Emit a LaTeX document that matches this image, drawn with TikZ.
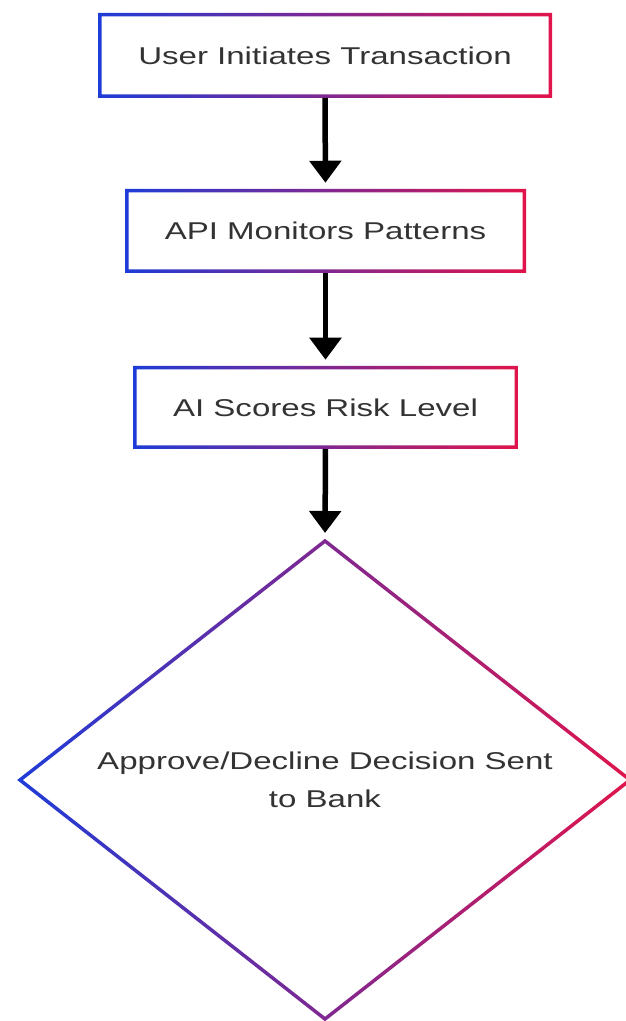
\documentclass[tikz,border=0pt]{standalone}
\usepackage{fontspec}
\newfontfamily\lab[FakeStretch=1.36]{Liberation Sans}
\usetikzlibrary{arrows.meta,calc,shapes.geometric}
\definecolor{edgeblue}{RGB}{30,60,215}
\definecolor{edgered}{RGB}{225,20,75}
\definecolor{inktext}{RGB}{51,51,51}

% gradient outline (blue at the left, crimson at the right) around a rectangular node
\newcommand\gradrect[1]{%
  \shade[rim]
    ($(#1.north west)+(-1.75,1.75)$) rectangle ($(#1.south east)+(1.75,-1.75)$)
    ($(#1.north west)+(1.75,-1.75)$) rectangle ($(#1.south east)+(-1.75,1.75)$);}

\begin{document}
\begin{tikzpicture}[x=1pt,y=1pt,
  labfont/.style={font=\lab\fontsize{24.3pt}{38pt}\selectfont, text=inktext},
  stepbox/.style={rectangle, inner sep=0pt, outer sep=0pt, labfont},
  decision/.style={diamond, aspect=1.28, inner sep=0pt, outer sep=0pt, align=center, labfont},
  flow/.style={line width=5.5pt, -{Triangle[width=31pt,length=22pt]}, shorten >=8pt, shorten <=1.75pt},
  rim/.style={left color=edgeblue, right color=edgered, even odd rule}]
\useasboundingbox (0,0) rectangle (625,1021);

\node[stepbox, minimum width=450.5pt, minimum height=81.5pt] (init) at (325,965.5) {User Initiates Transaction};
\node[stepbox, minimum width=397.5pt, minimum height=80.5pt] (watch) at (325.5,790) {API Monitors Patterns};
\node[stepbox, minimum width=381.5pt, minimum height=79.5pt] (score) at (325.5,613.5) {AI Scores Risk Level};
\node[decision, minimum width=610pt, minimum height=478pt] (dec) at (325,241) {Approve/Decline Decision Sent\\to Bank};

\gradrect{init}
\gradrect{watch}
\gradrect{score}
\shade[rim]
  ($(dec.west)+(-2.84,0)$) -- ($(dec.north)+(0,2.22)$) -- ($(dec.east)+(2.84,0)$) -- ($(dec.south)+(0,-2.22)$) -- cycle
  ($(dec.west)+(2.84,0)$) -- ($(dec.north)+(0,-2.22)$) -- ($(dec.east)+(-2.84,0)$) -- ($(dec.south)+(0,2.22)$) -- cycle;

\draw[flow] (init.south) -- (watch.north);
\draw[flow] (watch.south) -- (score.north);
\draw[flow] (score.south) -- (dec.north);
\end{tikzpicture}
\end{document}
